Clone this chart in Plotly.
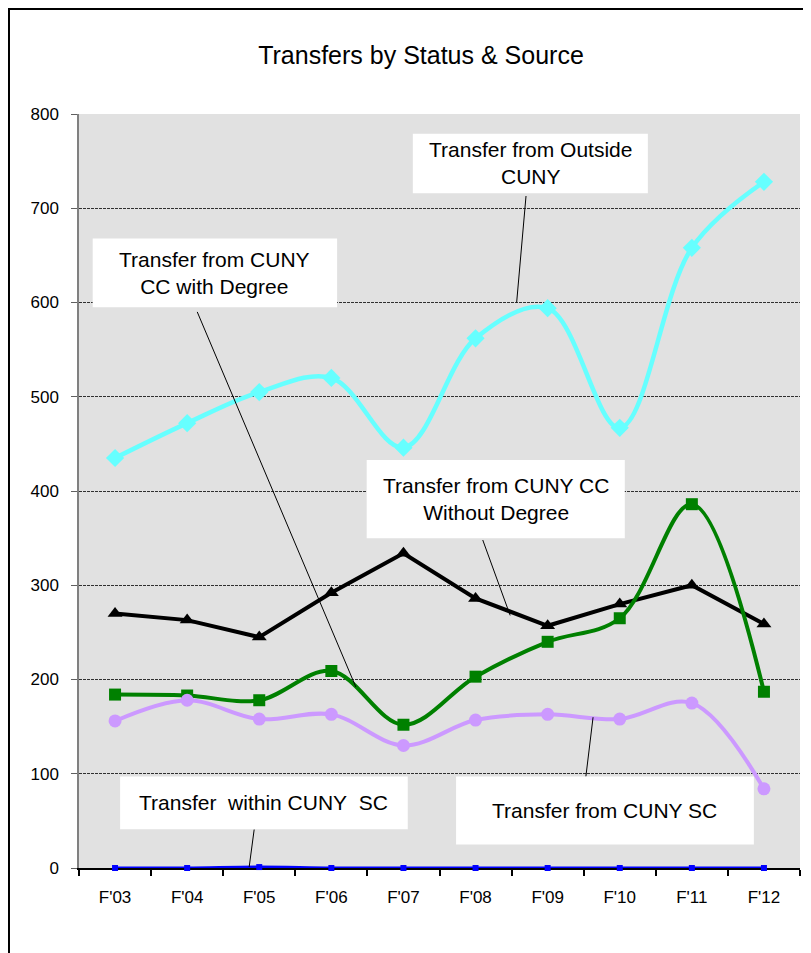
import plotly.graph_objects as go

categories = ["F'03", "F'04", "F'05", "F'06", "F'07", "F'08", "F'09", "F'10", "F'11", "F'12"]
outside_cuny = [435, 472, 505, 520, 446, 562, 594, 467, 658, 728]
cc_without_degree = [270, 263, 245, 292, 334, 286, 257, 280, 300, 259]
cc_with_degree = [184, 183, 178, 209, 152, 203, 240, 265, 386, 187]
from_cuny_sc = [156, 178, 158, 163, 130, 157, 163, 158, 175, 84]
within_cuny_sc = [0, 0, 1, 0, 0, 0, 0, 0, 0, 0]

FONT = "Liberation Sans, Arial, sans-serif"

fig = go.Figure()

fig.add_trace(go.Scatter(
    x=categories, y=outside_cuny, mode="lines+markers",
    line=dict(color="#66FFFF", width=4.5, shape="spline", smoothing=1),
    marker=dict(symbol="diamond", size=14, color="#66FFFF"),
    cliponaxis=False, name="Transfer from Outside CUNY"))
fig.add_trace(go.Scatter(
    x=categories, y=cc_without_degree, mode="lines+markers",
    line=dict(color="#000000", width=4),
    marker=dict(symbol="triangle-up", size=13, color="#000000"),
    cliponaxis=False, name="Transfer from CUNY CC Without Degree"))
fig.add_trace(go.Scatter(
    x=categories, y=cc_with_degree, mode="lines+markers",
    line=dict(color="#008000", width=4, shape="spline", smoothing=1),
    marker=dict(symbol="square", size=12, color="#008000"),
    cliponaxis=False, name="Transfer from CUNY CC with Degree"))
fig.add_trace(go.Scatter(
    x=categories, y=from_cuny_sc, mode="lines+markers",
    line=dict(color="#CC99FF", width=4, shape="spline", smoothing=1),
    marker=dict(symbol="circle", size=13, color="#CC99FF"),
    cliponaxis=False, name="Transfer from CUNY SC"))
fig.add_trace(go.Scatter(
    x=categories, y=within_cuny_sc, mode="lines+markers",
    line=dict(color="#0000FF", width=3, shape="spline", smoothing=1),
    marker=dict(symbol="square", size=6, color="#0000FF"),
    cliponaxis=False, name="Transfer within CUNY SC"))

# callout labels: (text, box x0, x1, y0, y1, leader line x0, y0, x1, y1)
labels = [
    ("Transfer from Outside<br>CUNY", 4.13, 7.39, 716, 779, 5.70, 713, 5.57, 600),
    ("Transfer from CUNY<br>CC with Degree", -0.31, 3.08, 595, 668, 1.14, 590, 3.34, 192),
    ("Transfer from CUNY CC<br>Without Degree", 3.49, 7.07, 350, 433, 5.10, 348, 5.48, 268),
    ("Transfer\u00a0 within CUNY\u00a0 SC", 0.07, 4.06, 41, 97, 1.93, 41, 1.86, 1),
    ("Transfer from CUNY SC", 4.73, 8.86, 25, 97, 6.63, 160, 6.53, 97),
]
for text, bx0, bx1, by0, by1, lx0, ly0, lx1, ly1 in labels:
    fig.add_shape(type="line", xref="x", yref="y", x0=lx0, y0=ly0, x1=lx1, y1=ly1,
                  line=dict(color="black", width=1), layer="above")
    fig.add_shape(type="rect", xref="x", yref="y", x0=bx0, x1=bx1, y0=by0, y1=by1,
                  fillcolor="white", line=dict(width=0), layer="above")
    fig.add_annotation(x=(bx0 + bx1) / 2, y=(by0 + by1) / 2, xref="x", yref="y",
                       text=text, showarrow=False,
                       font=dict(family=FONT, size=21, color="black"))

# outer chart border
fig.add_shape(type="rect", xref="paper", yref="paper", x0=-0.0971, x1=1.2,
              y0=-0.3, y1=1.1393, line=dict(color="black", width=2),
              fillcolor="rgba(0,0,0,0)", layer="above")

fig.update_layout(
    width=811, height=953,
    margin=dict(l=71, r=19, t=106, b=93),
    paper_bgcolor="white", plot_bgcolor="#E1E1E1",
    showlegend=False,
    font=dict(family=FONT, color="black"),
    title=dict(text="Transfers by Status & Source", x=413 / 811, xref="container",
               xanchor="center", y=1 - 47 / 953, yref="container", yanchor="middle",
               font=dict(family=FONT, size=25, color="black")),
)
fig.update_xaxes(
    type="category", range=[-0.5, 9.5], showgrid=False,
    showline=True, linecolor="black", linewidth=1.5,
    ticks="outside", tickson="boundaries", ticklen=6, tickcolor="black", tickwidth=1.5,
    tickfont=dict(family=FONT, size=17, color="black"), ticklabelstandoff=13,
    layer="below traces", zeroline=False,
)
fig.update_yaxes(
    range=[0, 800], tickvals=[0, 100, 200, 300, 400, 500, 600, 700, 800],
    showgrid=True, gridcolor="#303030", gridwidth=1, griddash="3px,1px",
    showline=True, linecolor="#808080", linewidth=1.5,
    ticks="outside", ticklen=6, tickcolor="#606060",
    tickfont=dict(family=FONT, size=17, color="black"), ticklabelstandoff=9,
    zeroline=False,
)

fig.write_html("out.html")
